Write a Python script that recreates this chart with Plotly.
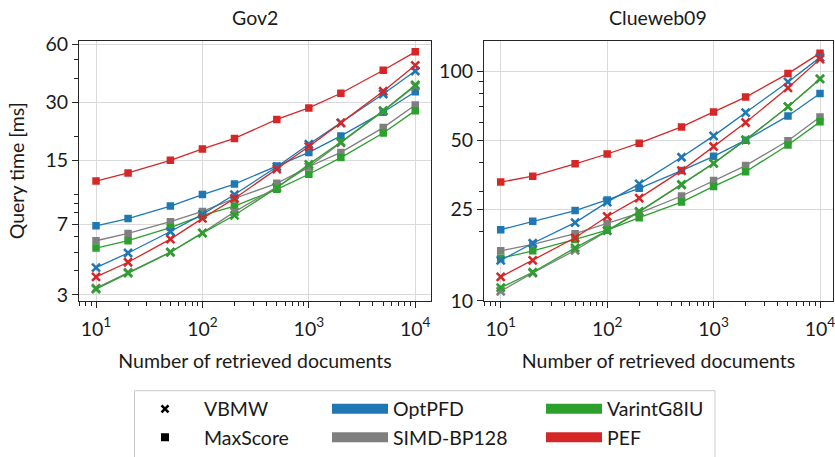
import plotly.graph_objects as go

W, H = 835, 457
FONT = "Lato"
FS = 19.5
TXT = "#1a1a1a"

docs = [10, 20, 50, 100, 200, 500, 1000, 2000, 5000, 10000]

# Gov2 query times [ms]
gov2_vbmw_optpfd = [4.15, 4.95, 6.40, 7.86, 9.96, 13.9, 18.2, 23.5, 33.2, 43.7]
gov2_vbmw_simd = [3.25, 3.92, 5.00, 6.30, 8.10, 10.9, 13.9, 18.5, 27.0, 36.5]
gov2_vbmw_varint = [3.21, 3.89, 4.99, 6.28, 7.77, 10.8, 14.3, 18.7, 27.2, 37.0]
gov2_vbmw_pef = [3.72, 4.43, 5.84, 7.49, 9.50, 13.5, 17.7, 23.5, 34.3, 46.8]
gov2_maxscore_optpfd = [6.85, 7.47, 8.68, 9.96, 11.3, 14.0, 16.5, 20.1, 26.7, 34.1]
gov2_maxscore_simd = [5.73, 6.25, 7.20, 8.14, 9.50, 11.4, 13.9, 16.5, 22.2, 29.1]
gov2_maxscore_varint = [5.25, 5.73, 6.71, 7.77, 8.68, 10.6, 12.7, 15.5, 20.8, 27.2]
gov2_maxscore_pef = [11.7, 12.9, 15.0, 17.2, 19.5, 24.5, 28.1, 33.5, 44.1, 55.0]

# Clueweb09 query times [ms]
cw_vbmw_optpfd = [15.0, 17.8, 21.9, 26.9, 32.3, 42.2, 52.3, 66.0, 89.9, 115]
cw_vbmw_simd = [11.0, 13.2, 16.6, 20.2, 24.4, 32.0, 39.7, 50.1, 70.1, 92.6]
cw_vbmw_varint = [11.4, 13.3, 17.0, 20.2, 24.5, 32.1, 39.7, 50.3, 70.1, 92.6]
cw_vbmw_pef = [12.7, 15.0, 18.8, 23.3, 28.0, 36.9, 47.0, 59.8, 84.7, 113]
cw_maxscore_optpfd = [20.4, 22.2, 24.7, 27.5, 30.9, 36.9, 42.6, 50.1, 63.9, 80.0]
cw_maxscore_simd = [16.5, 17.6, 19.6, 21.7, 24.1, 28.6, 33.4, 38.8, 49.8, 63.2]
cw_maxscore_varint = [15.3, 16.5, 18.5, 20.3, 23.0, 26.9, 31.5, 36.5, 47.7, 60.2]
cw_maxscore_pef = [32.9, 34.9, 39.5, 43.6, 48.6, 57.2, 66.5, 77.2, 97.7, 120]

codecs = ["OptPFD", "SIMD-BP128", "VarintG8IU", "PEF"]
colors = {"OptPFD": "#1f77b4", "SIMD-BP128": "#7f7f7f",
          "VarintG8IU": "#2ca02c", "PEF": "#d62728"}
panel_titles = ["Gov2", "Clueweb09"]
x_title = "Number of retrieved documents"
y_title = "Query time [ms]"

gov2 = {
    ("VBMW", "OptPFD"): gov2_vbmw_optpfd, ("VBMW", "SIMD-BP128"): gov2_vbmw_simd,
    ("VBMW", "VarintG8IU"): gov2_vbmw_varint, ("VBMW", "PEF"): gov2_vbmw_pef,
    ("MaxScore", "OptPFD"): gov2_maxscore_optpfd, ("MaxScore", "SIMD-BP128"): gov2_maxscore_simd,
    ("MaxScore", "VarintG8IU"): gov2_maxscore_varint, ("MaxScore", "PEF"): gov2_maxscore_pef,
}
cw = {
    ("VBMW", "OptPFD"): cw_vbmw_optpfd, ("VBMW", "SIMD-BP128"): cw_vbmw_simd,
    ("VBMW", "VarintG8IU"): cw_vbmw_varint, ("VBMW", "PEF"): cw_vbmw_pef,
    ("MaxScore", "OptPFD"): cw_maxscore_optpfd, ("MaxScore", "SIMD-BP128"): cw_maxscore_simd,
    ("MaxScore", "VarintG8IU"): cw_maxscore_varint, ("MaxScore", "PEF"): cw_maxscore_pef,
}

x_tickvals = [10, 100, 1000, 10000]
x_ticktext = ["10<sup>1</sup>", "10<sup>2</sup>", "10<sup>3</sup>", "10<sup>4</sup>"]
gov2_yticks = [3, 7, 15, 30, 60]
cw_yticks = [10, 25, 50, 100]


def px(x):
    return x / W


def py(y):
    return 1 - y / H


def minor_vals(lo, hi, exclude):
    vals = []
    for e in range(0, 5):
        for m in range(1, 10):
            v = m * 10 ** e
            if lo <= v <= hi and v not in exclude:
                vals.append(v)
    return vals


fig = go.Figure()

panels = [(gov2, "x", "y"), (cw, "x2", "y2")]
for data, xa, ya in panels:
    for algo in ["MaxScore", "VBMW"]:
        for c in codecs:
            if algo == "VBMW":
                marker = dict(symbol="x-thin", size=8, color=colors[c],
                              line=dict(width=2.6, color=colors[c]))
            else:
                marker = dict(symbol="square", size=7.5, color=colors[c],
                              line=dict(width=0))
            fig.add_trace(go.Scatter(
                x=docs, y=data[(algo, c)], mode="lines+markers",
                line=dict(color=colors[c], width=1.3), marker=marker,
                xaxis=xa, yaxis=ya, showlegend=False))

# legend entries
fig.add_trace(go.Scatter(x=[None], y=[None], mode="markers", name="VBMW",
                         marker=dict(symbol="x-thin", size=7, color="black",
                                     line=dict(width=2.6, color="black")),
                         legend="legend"))
fig.add_trace(go.Scatter(x=[None], y=[None], mode="markers", name="MaxScore",
                         marker=dict(symbol="square", size=8, color="black"),
                         legend="legend"))
leg_of = {"OptPFD": "legend2", "SIMD-BP128": "legend2",
          "VarintG8IU": "legend3", "PEF": "legend3"}
for c in codecs:
    fig.add_trace(go.Scatter(x=[None], y=[None], mode="lines", name=c,
                             line=dict(color=colors[c], width=10),
                             legend=leg_of[c]))

axis_common = dict(type="log", showline=True, mirror=True, linecolor="#262626",
                   linewidth=1.1, ticks="outside", ticklen=6, tickwidth=1.1,
                   tickcolor="#262626", showgrid=True, gridcolor="#dadada",
                   gridwidth=1, zeroline=False, automargin=False,
                   tickfont=dict(family=FONT, size=FS, color=TXT))

gov_minor_y = minor_vals(3, 60, gov2_yticks)
cw_minor_y = minor_vals(10, 140, cw_yticks)
x_minor = minor_vals(6, 14000, x_tickvals)

minor_x = dict(tickvals=x_minor, ticks="outside", ticklen=3.5, tickwidth=1,
               tickcolor="#262626", showgrid=False)
title_font = dict(family=FONT, size=FS, color=TXT)
leg_common = dict(xanchor="left", yanchor="top", bgcolor="rgba(0,0,0,0)",
                  borderwidth=0, font=dict(family=FONT, size=FS, color=TXT))

fig.update_layout(
    width=W, height=H,
    margin=dict(l=0, r=0, t=0, b=0),
    paper_bgcolor="white", plot_bgcolor="white",
    font=dict(family=FONT, size=FS, color=TXT),
    xaxis=dict(axis_common, domain=[px(79), px(431)], range=[0.840, 4.148],
               tickmode="array", tickvals=x_tickvals, ticktext=x_ticktext,
               minor=minor_x, anchor="y", ticklabelstandoff=4,
               ticklabeloverflow="allow",
               title=dict(text=x_title, font=title_font)),
    yaxis=dict(axis_common, domain=[py(304.5), py(41)], range=[0.444, 1.799],
               tickmode="array", tickvals=gov2_yticks,
               ticktext=[str(v) for v in gov2_yticks],
               minor=dict(tickvals=gov_minor_y, ticks="outside", ticklen=3.5,
                          tickwidth=1, tickcolor="#262626", showgrid=False),
               anchor="x",
               title=dict(text=y_title, font=title_font)),
    xaxis2=dict(axis_common, domain=[px(484), px(833)], range=[0.843, 4.122],
                tickmode="array", tickvals=x_tickvals, ticktext=x_ticktext,
                minor=minor_x, anchor="y2", ticklabelstandoff=4,
                ticklabeloverflow="allow",
                title=dict(text=x_title, font=title_font)),
    yaxis2=dict(axis_common, domain=[py(304.5), py(41)], range=[0.998, 2.134],
                tickmode="array", tickvals=cw_yticks,
                ticktext=[str(v) for v in cw_yticks],
                minor=dict(tickvals=cw_minor_y, ticks="outside", ticklen=3.5,
                           tickwidth=1, tickcolor="#262626", showgrid=False),
                anchor="x2"),
    legend=dict(leg_common, x=px(126), y=py(394), itemwidth=68),
    legend2=dict(leg_common, x=px(327), y=py(394), itemwidth=56),
    legend3=dict(leg_common, x=px(541), y=py(394), itemwidth=56),
    shapes=[dict(type="rect", xref="paper", yref="paper",
                 x0=px(134.5), x1=px(715), y0=py(470), y1=py(395),
                 line=dict(color="#cccccc", width=1), fillcolor="rgba(0,0,0,0)")],
    annotations=[
        dict(text=panel_titles[0], x=px(255), y=py(18), xref="paper", yref="paper",
             showarrow=False, xanchor="center", yanchor="middle", font=title_font),
        dict(text=panel_titles[1], x=px(658), y=py(18), xref="paper", yref="paper",
             showarrow=False, xanchor="center", yanchor="middle", font=title_font),
    ],
)

fig.write_html(
    "out.html",
    config={"displayModeBar": False},
    post_script="document.body.style.margin='0';document.body.style.padding='0';"
                "document.documentElement.style.overflow='hidden';",
)
